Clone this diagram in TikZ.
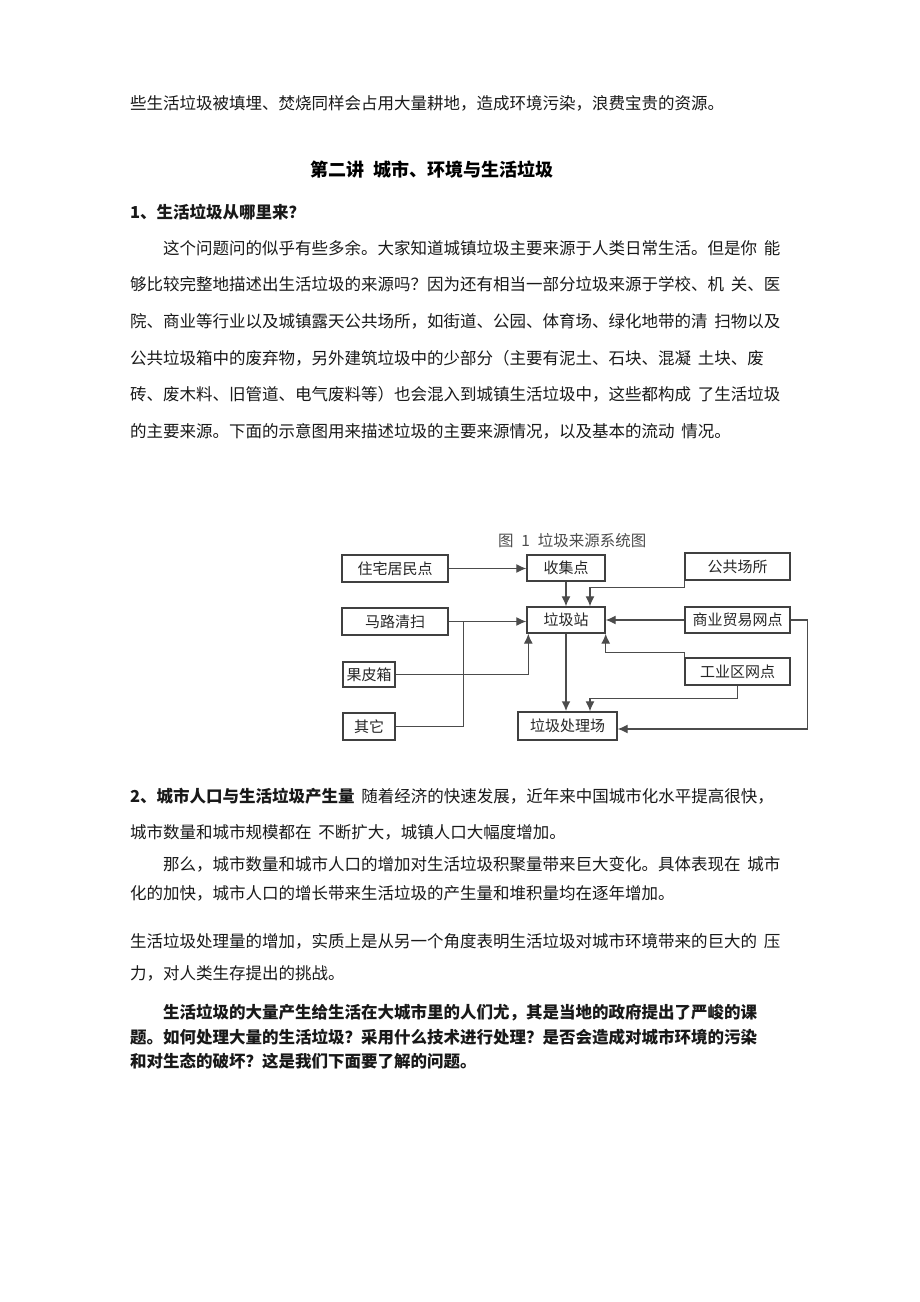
\documentclass[tikz,border=0pt]{standalone}
\usepackage{fontspec}
\setmainfont{Noto Sans CJK SC}
\usetikzlibrary{arrows.meta}
\newcommand\wgap{\hspace{0.4em}}
\tikzset{
  txt/.style={anchor=west, inner sep=0pt, font=\fontsize{16.5}{18}\selectfont, text=black!90},
  txtb/.style={txt, font=\fontsize{16.5}{18}\selectfont\bfseries},
  box/.style={draw=black!75, line width=1.4pt, inner sep=0pt, font=\fontsize{15}{17}\selectfont, text=black!85},
  con/.style={draw=black!70, line width=1.2pt},
  arr/.style={con, -{Latex[length=10pt,width=9pt]}}
}
\begin{document}
\begin{tikzpicture}[x=1pt,y=-1pt]
\useasboundingbox[fill=white] (0,0) rectangle (920,1302);
% top text
\node[txt] (l0) at (130,103) {些生活垃圾被填埋、焚烧同样会占用大量耕地，造成环境污染，浪费宝贵的资源。};
\node[anchor=center, inner sep=0pt, font=\fontsize{18}{20}\selectfont\bfseries] (t2) at (432,170) {第二讲\hspace{0.5em}城市、环境与生活垃圾};
\node[txtb] (h1) at (130,212) {1、生活垃圾从哪里来？};
\node[txt] (p1) at (163,248) {这个问题问的似乎有些多余。大家知道城镇垃圾主要来源于人类日常生活。但是你\wgap 能};
\node[txt] (p2) at (130,284) {够比较完整地描述出生活垃圾的来源吗？因为还有相当一部分垃圾来源于学校、机\wgap 关、医};
\node[txt] (p3) at (130,321) {院、商业等行业以及城镇露天公共场所，如街道、公园、体育场、绿化地带的清\wgap 扫物以及};
\node[txt] (p4) at (130,358) {公共垃圾箱中的废弃物，另外建筑垃圾中的少部分（主要有泥土、石块、混凝\wgap 土块、废};
\node[txt] (p5) at (130,394) {砖、废木料、旧管道、电气废料等）也会混入到城镇生活垃圾中，这些都构成\wgap 了生活垃圾};
\node[txt] (p6) at (130,431) {的主要来源。下面的示意图用来描述垃圾的主要来源情况，以及基本的流动\wgap 情况。};
% figure
\node[anchor=west, inner sep=0pt, font=\fontsize{15.5}{17}\selectfont, text=black!70] (ftitle) at (498,541) {图\hspace{0.5em}1\hspace{0.5em}垃圾来源系统图};
\node[box, minimum width=106pt, minimum height=27pt] (zz) at (395,568.5) {住宅居民点};
\node[box, minimum width=78pt, minimum height=26pt] (sj) at (566,568) {收集点};
\node[box, minimum width=105pt, minimum height=27pt] (gg) at (737.5,566.5) {公共场所};
\node[box, minimum width=106pt, minimum height=27pt] (ml) at (395,621.5) {马路清扫};
\node[box, minimum width=78pt, minimum height=26pt] (zh) at (566,620) {垃圾站};
\node[box, minimum width=105pt, minimum height=26pt] (sy) at (737.5,620) {商业贸易网点};
\node[box, minimum width=52pt, minimum height=25pt] (gp) at (369,674.5) {果皮箱};
\node[box, minimum width=105pt, minimum height=27pt] (gy) at (737.5,671.5) {工业区网点};
\node[box, minimum width=52pt, minimum height=27pt] (qt) at (369,726.5) {其它};
\node[box, minimum width=99pt, minimum height=28pt] (cl) at (567.5,726) {垃圾处理场};
\draw[arr] (zz.east) -- (zz.east -| sj.west);
\draw[arr] (sj.south) -- (zh.north);
\draw[arr] (gg.south west) -- ++(0,7) -| ([xshift=24pt]zh.north);
\draw[arr] (sy.west) -- (zh.east);
\draw[arr] (sy.east) -- ++(17,0) |- ([yshift=-3pt]cl.east);
\draw[arr] (gy.north west) -- ++(0,-5) -| (zh.south east);
\draw[arr] (gy.south) -- ++(0,13) -| ([xshift=22.5pt]cl.north);
\draw[arr, line width=1.9pt] (zh.south) -- (zh.south |- cl.north);
\draw[arr] (ml.east) -- (ml.east -| zh.west);
\draw[con] (qt.east) -| ([xshift=15pt]ml.east);
\draw[arr] (gp.east) -| ([xshift=2pt]zh.south west);
% section 2
\node[txt] (s2) at (130,796) {\textbf{2、城市人口与生活垃圾产生量}\wgap 随着经济的快速发展，近年来中国城市化水平提高很快，};
\node[txt] (s2b) at (130,832) {城市数量和城市规模都在\wgap 不断扩大，城镇人口大幅度增加。};
\node[txt] (q1) at (163,864) {那么，城市数量和城市人口的增加对生活垃圾积聚量带来巨大变化。具体表现在\wgap 城市};
\node[txt] (q2) at (130,893) {化的加快，城市人口的增长带来生活垃圾的产生量和堆积量均在逐年增加。};
\node[txt] (r1) at (130,941) {生活垃圾处理量的增加，实质上是从另一个角度表明生活垃圾对城市环境带来的巨大的\wgap 压};
\node[txt] (r2) at (130,973) {力，对人类生存提出的挑战。};
\node[txtb] (b1) at (163,1013) {生活垃圾的大量产生给生活在大城市里的人们尤，其是当地的政府提出了严峻的课};
\node[txtb] (b2) at (130,1037) {题。如何处理大量的生活垃圾？采用什么技术进行处理？是否会造成对城市环境的污染};
\node[txtb] (b3) at (130,1061) {和对生态的破坏？这是我们下面要了解的问题。};
\end{tikzpicture}
\end{document}
